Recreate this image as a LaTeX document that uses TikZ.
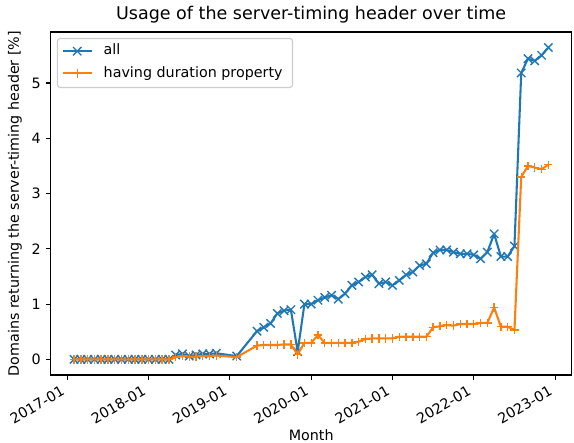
\documentclass[tikz,border=0pt]{standalone}
\usepackage{fontspec}
\setmainfont{DejaVu Sans}
\definecolor{mplblue}{HTML}{1F77B4}
\definecolor{mplorange}{HTML}{FF7F0E}
\definecolor{legedge}{HTML}{CCCCCC}
\tikzset{
  series/.style={line width=2.08pt, line join=round},
  blueser/.style={series, mplblue, mark=x, mark size=5.9pt, mark options={line width=1.39pt, solid}},
  orangeser/.style={series, mplorange, mark=+, mark size=4.17pt, mark options={line width=1.39pt, solid}},
  axisline/.style={line width=1.11pt, black},
  lbl/.style={inner sep=0pt, text height=10.8pt, text depth=3.35pt},
}
\begin{document}
\begin{tikzpicture}[x=1pt, y=-1pt, font=\fontsize{14.3pt}{16.5pt}\selectfont]
\useasboundingbox (0,0) rectangle (574,443);
\fill[white] (0,0) rectangle (574,443);
% data (x in months from 2017-01, y in percent)
\begin{scope}[shift={(67.3,359.4)}, x=6.775pt, y=55.29pt]
\draw[blueser] plot coordinates {
(1,0)(2,0)(3,0)(4,0)(5,0)(6,0)(7,0)(8,0)(9,0)(10,0)(11,0)(12,0)(13,0)(14,0)(15,0)
(16,0.08)(17,0.10)(18,0.06)(19,0.08)(20,0.10)(21,0.10)(22,0.11)
(25,0.06)
(28,0.51)(29,0.58)(30,0.65)(31,0.83)(32,0.88)(33,0.90)(34,0.14)(35,1.00)(36,1.00)(37,1.07)
(38,1.12)(39,1.16)(40,1.09)(41,1.19)(42,1.34)(43,1.40)(44,1.49)(45,1.53)(46,1.37)(47,1.40)
(48,1.34)(49,1.43)(50,1.53)(51,1.58)(52,1.70)(53,1.73)(54,1.93)(55,1.98)(56,1.98)(57,1.94)
(58,1.91)(59,1.91)(60,1.89)(61,1.82)(62,1.94)(63,2.27)(64,1.86)(65,1.86)(66,2.05)
(67,5.18)(68,5.44)(69,5.40)(70,5.50)(71,5.64)};
\draw[orangeser] plot coordinates {
(1,0)(2,0)(3,0)(4,0)(5,0)(6,0)(7,0)(8,0)(9,0)(10,0)(11,0)(12,0)(13,0)(14,0)(15,0)
(16,0.04)(17,0.06)(18,0.05)(19,0.05)(20,0.06)(21,0.06)(22,0.07)
(25,0.04)
(28,0.25)(29,0.26)(30,0.26)(31,0.26)(32,0.27)(33,0.27)(34,0.09)(35,0.30)(36,0.30)(37,0.44)
(38,0.30)(39,0.30)(40,0.30)(41,0.30)(42,0.30)(43,0.32)(44,0.37)(45,0.38)(46,0.38)(47,0.38)
(48,0.38)(49,0.41)(50,0.41)(51,0.41)(52,0.41)(53,0.41)(54,0.58)(55,0.60)(56,0.62)(57,0.61)
(58,0.64)(59,0.64)(60,0.64)(61,0.66)(62,0.66)(63,0.94)(64,0.59)(65,0.59)(66,0.53)
(67,3.30)(68,3.50)(69,3.47)(70,3.44)(71,3.52)};
\end{scope}
% frame
\draw[axisline] (50.5,32) rectangle (571.9,375);
% x ticks
\foreach \yr [count=\i from 0] in {2017,2018,2019,2020,2021,2022,2023} {
  \draw[axisline] ({67.3+81.3*\i},375) -- ++(0,4.86);
  \node[lbl, rotate=30, anchor=north east] (xt\i) at ({67.3+81.3*\i-7.1},384.7) {\yr-01};
}
% y ticks
\foreach \v in {0,1,2,3,4,5} {
  \draw[axisline] (50.5,{359.4-55.29*\v}) -- ++(-4.86,0);
  \node[inner sep=0pt, anchor=east] (yt\v) at (40.8,{359.4-55.29*\v}) {\v};
}
% labels
\node[inner sep=0pt, rotate=90, anchor=base] (ylab) at (19,203.5) {Domains returning the server-timing header [\%]};
\node[inner sep=0pt, anchor=base] (xlab) at (311.2,440.8) {Month};
\node[inner sep=0pt, anchor=base, font=\fontsize{17.5pt}{21pt}\selectfont] (title) at (311.2,20) {Usage of the server-timing header over time};
% legend
\draw[legedge, line width=1.11pt, fill=white, fill opacity=0.8, rounded corners=2.8pt] (57.4,38.5) rectangle (292.5,87.5);
\coordinate (la1) at (63,51.2);
\coordinate (lb1) at (91.5,51.2);
\coordinate (la2) at (63,73.4);
\coordinate (lb2) at (91.5,73.4);
\draw[series, mplblue] (la1) -- (lb1);
\draw[series, mplorange] (la2) -- (lb2);
\draw[blueser] plot coordinates {(77.2,51.2)};
\draw[orangeser] plot coordinates {(77.2,73.4)};
\node[lbl, anchor=west] (leg1) at (103.5,51.2) {all};
\node[lbl, anchor=west] (leg2) at (103.5,73.4) {having duration property};
\end{tikzpicture}
\end{document}
